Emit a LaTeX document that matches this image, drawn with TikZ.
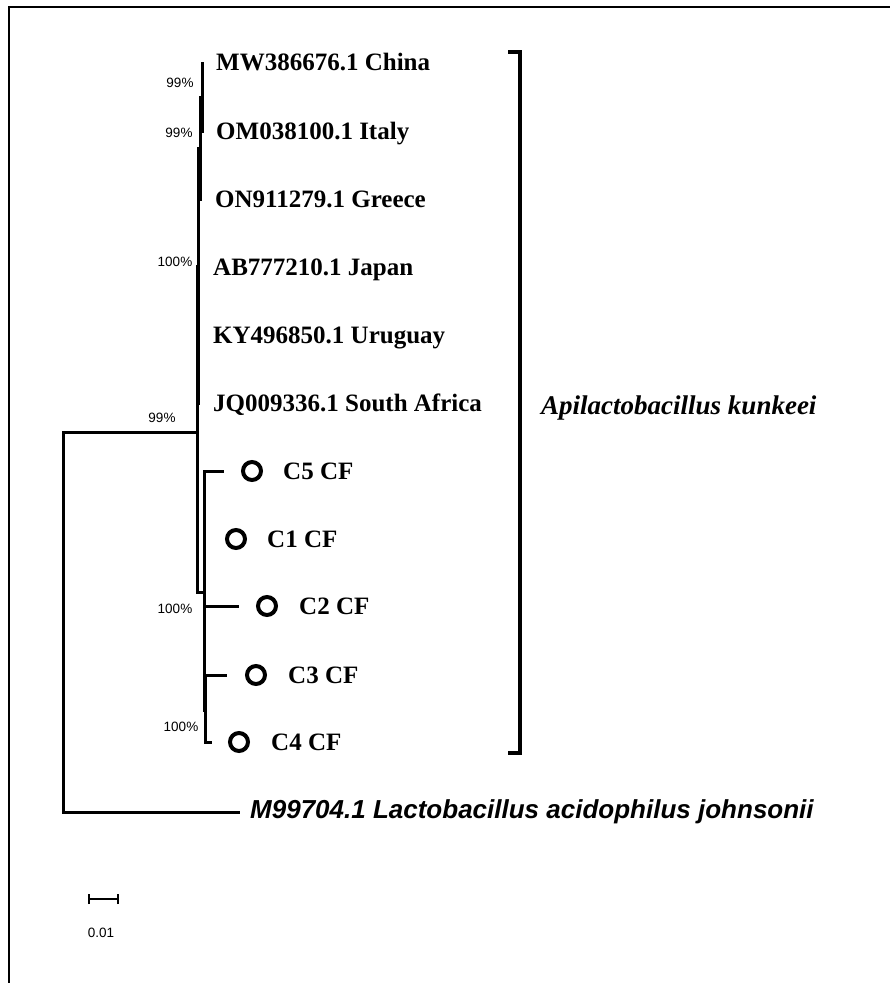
\documentclass[tikz,border=0pt]{standalone}
\usepackage{fontspec}
\setmainfont{Liberation Serif}
\newfontfamily\arialf{Liberation Sans}
\tikzset{
  frame/.style={line width=2.5pt},
  branch/.style={line width=3pt, line join=miter, line cap=rect},
  taxon/.style={anchor=base west, inner sep=0pt, font=\fontsize{25}{30}\selectfont\bfseries},
  pct/.style={inner sep=0pt, font=\arialf\fontsize{13.5}{16}\selectfont},
  ring/.style={circle, draw, line width=4pt, minimum size=18pt, inner sep=0pt},
  bracketline/.style={line width=4pt, line join=miter},
  scalebar/.style={line width=1.5pt}
}
\begin{document}
\begin{tikzpicture}[x=1pt,y=-1pt]
\useasboundingbox (0,0) rectangle (890,983);
% frame (top and left edges visible)
\coordinate (ftl) at (9,7);
\coordinate (ftr) at (891,7);
\coordinate (fbl) at (9,984);
\draw[frame] (ftr) -- (ftl) -- (fbl);

% taxa labels
\node[taxon] (t1) at (216,70) {MW386676.1 China};
\node[taxon] (t2) at (216,139) {OM038100.1 Italy};
\node[taxon] (t3) at (215,207) {ON911279.1 Greece};
\node[taxon] (t4) at (213,275) {AB777210.1 Japan};
\node[taxon] (t5) at (213,343) {KY496850.1 Uruguay};
\node[taxon] (t6) at (213,411) {JQ009336.1 South Africa};
\node[taxon] (c5) at (283,479) {C5 CF};
\node[taxon] (c1) at (267,547) {C1 CF};
\node[taxon] (c2) at (299,614) {C2 CF};
\node[taxon] (c3) at (288,683) {C3 CF};
\node[taxon] (c4) at (271,750) {C4 CF};
\node[anchor=base west, inner sep=0pt, font=\arialf\fontsize{26}{30}\selectfont\bfseries\itshape] (out) at (250,818) {M99704.1 Lactobacillus acidophilus johnsonii};
\node[anchor=base west, inner sep=0pt, font=\fontsize{27}{32}\selectfont\bfseries\itshape] (sp) at (541,414) {Apilactobacillus kunkeei};

% rings
\node[ring] (r5) at (252,471) {};
\node[ring] (r1) at (236,539) {};
\node[ring] (r2) at (267,606) {};
\node[ring] (r3) at (256,675) {};
\node[ring] (r4) at (239,742) {};

% tree coordinates
\coordinate (a1) at (202,63);
\coordinate (a2) at (202,131);
\coordinate (b1) at (200,97);
\coordinate (b2) at (200,199);
\coordinate (d1) at (198,148);
\coordinate (d2) at (198,403);
\coordinate (e1) at (197,266);
\coordinate (e2) at (197,592);
\coordinate (root1) at (197,432);
\coordinate (rootT) at (63,432);
\coordinate (rootB) at (63,812);
\coordinate (outE) at (238,812);
\coordinate (cj) at (204,592);
\coordinate (ct) at (204,471);
\coordinate (cb) at (204,710);
\coordinate (ct2) at (205,675);
\coordinate (cb2) at (205,742);
\coordinate (c5e) at (222,471);
\coordinate (c2s) at (204,606);
\coordinate (c2e) at (237,606);
\coordinate (c3e) at (225,675);
\coordinate (c4e) at (210,742);

\draw[branch] (a1) -- (a2);
\draw[branch] (b1) -- (b2);
\draw[branch] (d1) -- (d2);
\draw[branch] (e1) -- (e2);
\draw[branch] (root1) -- (rootT) -- (rootB) -- (outE);
\draw[branch] (e2) -- (cj);
\draw[branch] (ct) -- (cb);
\draw[branch] (ct2) -- (cb2);
\draw[branch] (ct) -- (c5e);
\draw[branch] (c2s) -- (c2e);
\draw[branch] (ct2) -- (c3e);
\draw[branch] (cb2) -- (c4e);

% bootstrap labels
\node[pct] (p1) at (180,83) {99\%};
\node[pct] (p2) at (179,133) {99\%};
\node[pct] (p3) at (175,262) {100\%};
\node[pct] (p4) at (162,418) {99\%};
\node[pct] (p5) at (175,609) {100\%};
\node[pct] (p6) at (181,727) {100\%};

% bracket
\coordinate (k1) at (508,52);
\coordinate (k2) at (520,52);
\coordinate (k3) at (520,753);
\coordinate (k4) at (508,753);
\draw[bracketline] (k1) -- (k2) -- (k3) -- (k4);

% scale bar
\coordinate (s1) at (89,899);
\coordinate (s2) at (118,899);
\draw[scalebar] (s1) -- (s2);
\draw[scalebar] ([yshift=-5pt]s1) -- ([yshift=5pt]s1);
\draw[scalebar] ([yshift=-5pt]s2) -- ([yshift=5pt]s2);
\node[pct] (sl) at (101,933) {0.01};
\end{tikzpicture}
\end{document}
